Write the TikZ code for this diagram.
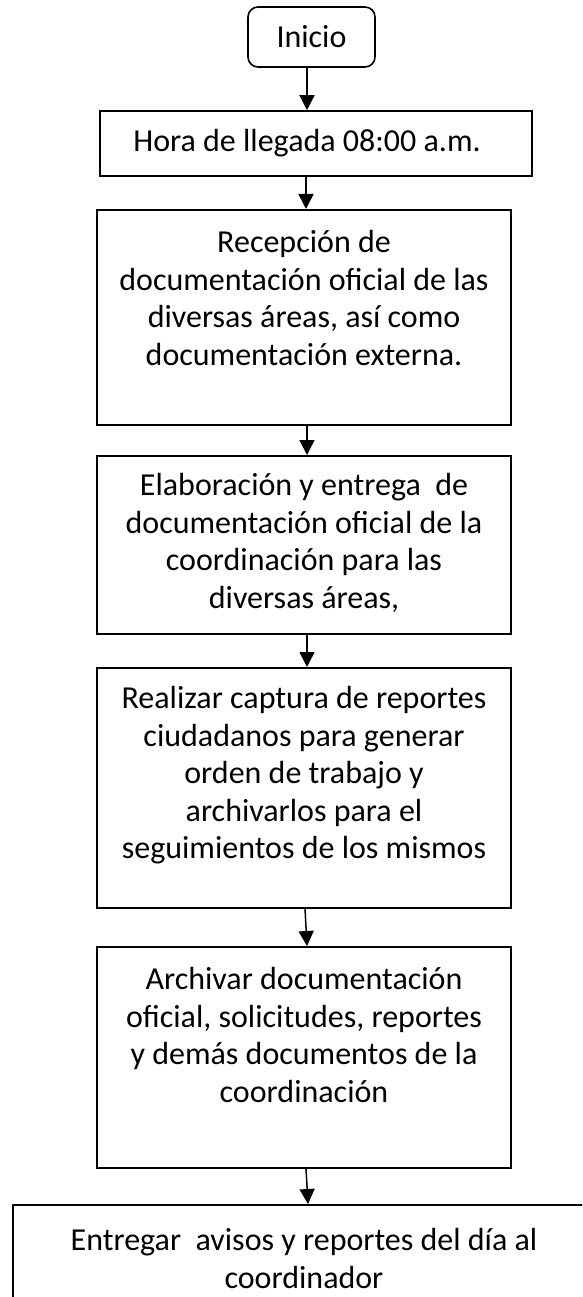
\documentclass[tikz,border=0pt]{standalone}
\usepackage{fontspec}
\setmainfont{Carlito}
\usetikzlibrary{arrows.meta}
\newcommand{\firstline}{\rule{0pt}{43pt}}
\begin{document}
\begin{tikzpicture}[x=1pt,y=-1pt,
  every node/.style={font=\fontsize{32}{37.5}\selectfont, inner sep=0pt},
  boxn/.style={draw, line width=1.6pt, rectangle},
  arr/.style={line width=1.5pt, -{Triangle[length=15pt,width=15pt]}}]
\useasboundingbox (0,0) rectangle (582,1297);
\clip (0,0) rectangle (582,1297);
\fill[white] (0,0) rectangle (582,1297);
\coordinate (ax) at (307,0);
\node[boxn, rounded corners=10pt, minimum width=127pt, minimum height=60pt] (ini) at (311.5,37) {Inicio};
\node[boxn, minimum width=432pt, minimum height=65pt] (b2) at (316,143.5) {Hora de llegada 08:00 a.m.\hspace*{18pt}};
\node[boxn, anchor=north] (b3) at (304,209)
  {\parbox[t][215pt][t]{414pt}{\centering\firstline Recepción de\\documentación oficial de las\\diversas áreas, así como\\documentación externa.}};
\node[boxn, anchor=north] (b4) at (304,455)
  {\parbox[t][178pt][t]{414pt}{\centering\rule{0pt}{40pt}Elaboración y entrega\ \ de\\documentación oficial de la\\coordinación para las\\diversas áreas,}};
\node[boxn, anchor=north] (b5) at (304,667)
  {\parbox[t][240pt][t]{414pt}{\centering\rule{0pt}{41pt}Realizar captura de reportes\\ciudadanos para generar\\orden de trabajo y\\archivarlos para el\\seguimientos de los mismos}};
\node[boxn, anchor=north] (b6) at (304,946)
  {\parbox[t][221pt][t]{414pt}{\centering\firstline Archivar documentación\\oficial, solicitudes, reportes\\y demás documentos de la\\coordinación}};
\node[boxn, anchor=north] (b7) at (304,1204)
  {\parbox[t][120pt][t]{582pt}{\centering\rule{0pt}{46pt}Entregar\ \ avisos y reportes del día al\\coordinador}};
\draw[arr] (ini.south -| ax) -- (b2.north -| ax);
\draw[arr] ([xshift=-1pt]b2.south -| ax) -- ([xshift=-1pt]b3.north -| ax);
\draw[arr] (b3.south -| ax) -- (b4.north -| ax);
\draw[arr] (b4.south -| ax) -- (b5.north -| ax);
\draw[arr] ([xshift=-2pt]b5.south -| ax) -- (b6.north -| ax);
\draw[arr] ([xshift=-1pt]b6.south -| ax) -- ([xshift=1pt]b7.north -| ax);
\end{tikzpicture}
\end{document}
